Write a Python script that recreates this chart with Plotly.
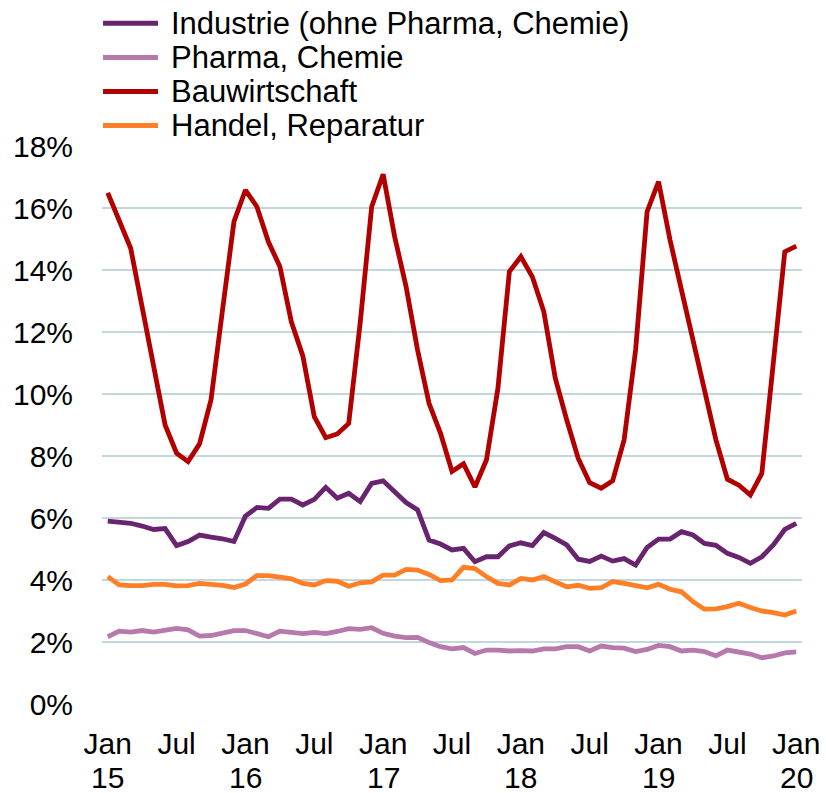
import plotly.graph_objects as go

# ---- data ----
months = [f"{m} {y:02d}" for y in range(15, 21) for m in
          ["Jan", "Feb", "Mar", "Apr", "May", "Jun", "Jul", "Aug", "Sep", "Oct", "Nov", "Dec"]][:61]

series_names = ["Industrie (ohne Pharma, Chemie)", "Pharma, Chemie", "Bauwirtschaft", "Handel, Reparatur"]

industrie = [5.90, 5.87, 5.83, 5.74, 5.63, 5.66, 5.11, 5.24, 5.45, 5.38, 5.33, 5.24,
             6.06, 6.34, 6.31, 6.61, 6.61, 6.42, 6.60, 6.99, 6.64, 6.80, 6.53, 7.12,
             7.20, 6.85, 6.50, 6.26, 5.29, 5.16, 4.97, 5.02, 4.59, 4.75, 4.75, 5.10,
             5.20, 5.11, 5.53, 5.34, 5.13, 4.67, 4.60, 4.77, 4.61, 4.69, 4.48, 5.05,
             5.32, 5.32, 5.56, 5.45, 5.18, 5.12, 4.86, 4.73, 4.54, 4.75, 5.13, 5.63,
             5.83]

pharma = [2.17, 2.35, 2.32, 2.37, 2.32, 2.37, 2.44, 2.39, 2.19, 2.21, 2.28, 2.37,
          2.37, 2.26, 2.17, 2.35, 2.32, 2.27, 2.31, 2.27, 2.34, 2.43, 2.41, 2.46,
          2.28, 2.19, 2.14, 2.15, 1.98, 1.85, 1.78, 1.82, 1.63, 1.74, 1.74, 1.71,
          1.72, 1.71, 1.78, 1.78, 1.85, 1.85, 1.71, 1.87, 1.82, 1.80, 1.69, 1.76,
          1.89, 1.85, 1.71, 1.74, 1.69, 1.55, 1.74, 1.67, 1.61, 1.49, 1.55, 1.65,
          1.68]

bau = [16.49, 15.60, 14.70, 12.80, 10.85, 9.00, 8.09, 7.82, 8.39, 9.81, 12.70, 15.56,
       16.58, 16.04, 14.91, 14.11, 12.33, 11.23, 9.27, 8.59, 8.71, 9.05, 12.30, 16.04,
       17.09, 15.08, 13.46, 11.42, 9.70, 8.73, 7.50, 7.75, 7.00, 7.87, 10.18, 13.95,
       14.43, 13.78, 12.66, 10.51, 9.16, 7.92, 7.14, 6.96, 7.20, 8.52, 11.42, 15.88,
       16.85, 14.97, 13.35, 11.74, 10.18, 8.52, 7.25, 7.06, 6.74, 7.44, 11.00, 14.59,
       14.77]

handel = [4.11, 3.84, 3.82, 3.82, 3.86, 3.86, 3.81, 3.82, 3.89, 3.87, 3.83, 3.76,
          3.87, 4.14, 4.14, 4.09, 4.04, 3.89, 3.84, 3.98, 3.96, 3.80, 3.91, 3.94,
          4.16, 4.16, 4.34, 4.32, 4.18, 3.98, 4.00, 4.41, 4.37, 4.11, 3.89, 3.84,
          4.05, 4.00, 4.11, 3.94, 3.78, 3.83, 3.73, 3.75, 3.95, 3.89, 3.82, 3.75,
          3.86, 3.70, 3.62, 3.30, 3.06, 3.07, 3.14, 3.25, 3.11, 3.00, 2.95, 2.87,
          3.00]

tick_months = [months[i] for i in range(0, 61, 6)]
tick_labels = ["Jan", "Jul", "Jan", "Jul", "Jan", "Jul", "Jan", "Jul", "Jan", "Jul", "Jan"]
year_months = [months[i] for i in range(0, 61, 12)]
year_labels = ["15", "16", "17", "18", "19", "20"]
y_ticks = [0, 2, 4, 6, 8, 10, 12, 14, 16, 18]
y_labels = [f"{v}%" for v in y_ticks]

colors = ["#68246F", "#B679AB", "#B20000", "#FF7F27"]
values = [industrie, pharma, bau, handel]

FONT = "Liberation Sans, Arial, sans-serif"

fig = go.Figure()
for k in [1, 3, 0, 2]:
    fig.add_trace(go.Scatter(
        x=months, y=values[k], mode="lines", name=series_names[k],
        line=dict(color=colors[k], width=4.8), showlegend=False))

# manual legend
row_y = [1.2199, 1.1588, 1.0977, 1.0366]
for k in range(4):
    fig.add_shape(type="line", xref="paper", yref="paper",
                  x0=0.0015, x1=0.080, y0=row_y[k], y1=row_y[k],
                  line=dict(color=colors[k], width=5))
    fig.add_annotation(xref="paper", yref="paper", x=0.0960, y=row_y[k],
                       text=series_names[k], showarrow=False,
                       xanchor="left", yanchor="middle",
                       font=dict(family=FONT, size=31, color="#000000"))

# year line of the x-axis labels
for m, lab in zip(year_months, year_labels):
    fig.add_annotation(xref="x", yref="paper", x=m, y=-0.1326, text=lab,
                       showarrow=False, xanchor="center", yanchor="middle",
                       font=dict(family=FONT, size=30, color="#000000"))

fig.update_layout(
    width=826, height=793,
    margin=dict(l=102, r=24, t=146, b=89),
    paper_bgcolor="white", plot_bgcolor="white",
    font=dict(family=FONT, size=30, color="#000000"),
    xaxis=dict(type="category", range=[-0.5, 60.5], tickmode="array",
               tickvals=tick_months, ticktext=tick_labels, showgrid=False,
               zeroline=False, showline=False, ticks="", ticklabelstandoff=19,
               automargin=False,
               tickfont=dict(family=FONT, size=30, color="#000000"), tickangle=0),
    yaxis=dict(range=[0, 18], tickmode="array", tickvals=y_ticks, ticktext=y_labels,
               showgrid=True, gridcolor="#C2D6DE", gridwidth=1.5, zeroline=False,
               showline=False, ticks="", ticklabelstandoff=28, automargin=False,
               tickfont=dict(family=FONT, size=30, color="#000000")),
)

fig.write_html("out.html", config={"displayModeBar": False},
               post_script="document.body.style.margin='0';document.body.style.overflow='hidden';")
